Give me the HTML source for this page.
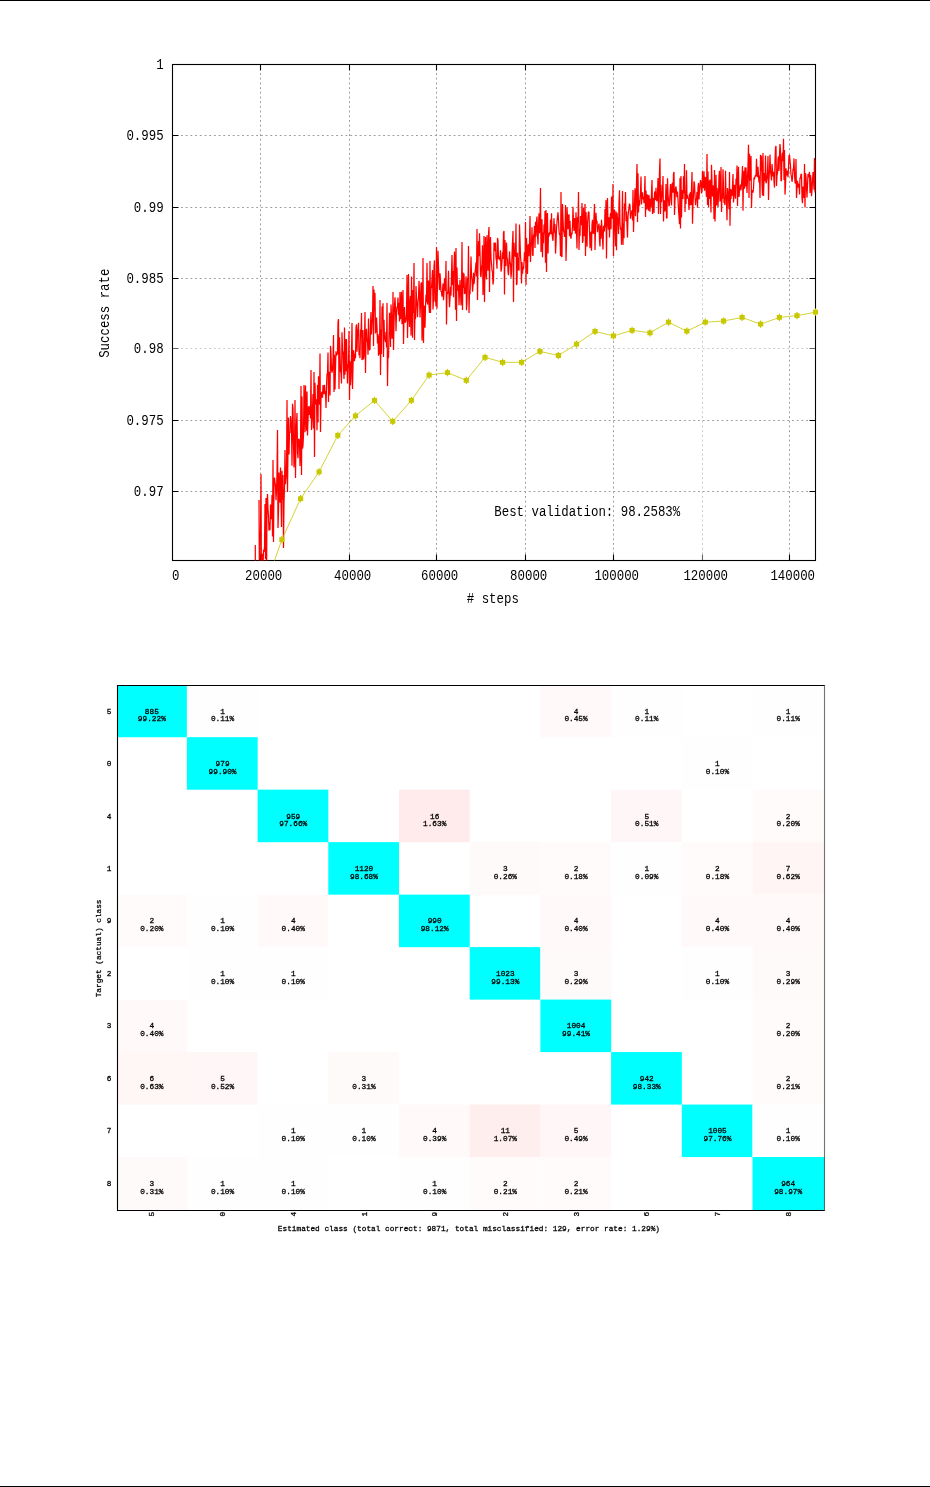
<!DOCTYPE html>
<html><head><meta charset="utf-8"><title>page</title>
<style>
html,body{margin:0;padding:0;background:#fff}
body{width:930px;height:1487px;position:relative;overflow:hidden;font-family:"Liberation Mono",monospace}
#top,#bot{position:absolute;left:0;width:930px;height:1px;background:#000}
#top{top:0}#bot{top:1486px}
svg{position:absolute;left:0;top:0;will-change:transform}
.t1{font-family:"Liberation Mono",monospace;font-size:12.4px;fill:#000}
.t2{font-family:"Liberation Mono",monospace;font-size:7.77px;font-weight:normal;fill:#000;stroke:#000;stroke-width:0.28;text-anchor:middle}
.grid{fill:none;stroke:#9e9e9e;stroke-width:1;stroke-dasharray:1.9 2.8}
.bord{fill:none;stroke:#000;stroke-width:1.1}
.red{fill:none;stroke:#ff0000;stroke-width:1.25;stroke-linejoin:miter;stroke-miterlimit:2}
.yel{fill:none;stroke:#c8c800;stroke-width:0.8}
</style></head>
<body>
<div id="top"></div>
<svg width="930" height="1487" viewBox="0 0 930 1487">
<g id="chart1">
<path d="M260.50 73.00V554.50M349.50 73.00V554.50M436.50 73.00V554.50M525.50 73.00V554.50M613.50 73.00V554.50M789.50 73.00V554.50M181.00 135.50H809.50M181.00 207.50H809.50M181.00 278.50H809.50M181.00 420.50H809.50M181.00 491.50H809.50" class="grid"/>
<path d="M702.50 73.00V554.50M181.00 348.50H809.50" class="grid" opacity="0.55"/>
<rect x="172.5" y="64.5" width="643.0" height="496.0" class="bord"/>
<path d="M260.50 560.5v-6M260.50 64.5v6M349.50 560.5v-6M349.50 64.5v6M436.50 560.5v-6M436.50 64.5v6M525.50 560.5v-6M525.50 64.5v6M613.50 560.5v-6M613.50 64.5v6M789.50 560.5v-6M789.50 64.5v6M172.5 135.50h6M815.5 135.50h-6M172.5 207.50h6M815.5 207.50h-6M172.5 278.50h6M815.5 278.50h-6M172.5 420.50h6M815.5 420.50h-6M172.5 491.50h6M815.5 491.50h-6" class="bord"/>
<path d="M702.50 560.5v-6M702.50 64.5v6M172.5 348.50h6M815.5 348.50h-6" class="bord" opacity="0.6"/>
<clipPath id="c1"><rect x="173" y="65" width="642.5" height="495.5"/></clipPath>
<path d="M255.3 545L255.3 562M259.0 500.0L259.5 600.0L260.0 538.7L260.5 530.8L261.0 474.0L261.5 600.0L262.0 569.0L262.5 553.7L263.0 568.9L263.5 549.8L264.0 552.0L264.5 547.4L265.0 504.0L265.5 559.0L266.0 498.0L266.5 590.0L267.0 502.7L267.5 494.1L268.0 508.8L268.5 516.5L269.0 530.7L269.5 522.1L270.0 530.1L270.5 504.4L271.0 518.3L271.5 518.6L272.0 494.9L272.5 536.6L273.0 460.0L273.5 542.0L274.0 486.2L274.5 477.5L275.0 482.5L275.5 485.8L276.0 500.2L276.5 491.2L277.0 472.4L277.5 430.0L278.0 528.0L278.5 510.2L279.0 472.4L279.5 494.2L280.0 502.6L280.5 467.4L281.0 497.6L281.5 527.1L282.0 470.7L282.5 499.4L283.0 475.0L283.5 548.0L284.0 502.8L284.5 486.5L285.0 450.0L285.5 484.3L286.0 477.7L286.5 475.9L287.0 400.0L287.5 492.0L288.0 448.8L288.5 417.5L289.0 454.5L289.5 432.1L290.0 432.9L290.5 416.1L291.0 420.3L291.5 429.3L292.0 465.8L292.5 403.8L293.0 408.8L293.5 441.7L294.0 467.4L294.5 453.0L295.0 400.0L295.5 478.0L296.0 439.2L296.5 422.9L297.0 413.0L297.5 452.3L298.0 458.3L298.5 439.6L299.0 438.9L299.5 442.1L300.0 465.9L300.5 447.6L301.0 386.0L301.5 475.0L302.0 396.6L302.5 448.7L303.0 445.5L303.5 435.2L304.0 384.9L304.5 404.4L305.0 432.3L305.5 385.5L306.0 408.9L306.5 430.8L307.0 391.6L307.5 435.5L308.0 420.6L308.5 406.3L309.0 411.1L309.5 415.0L310.0 405.9L310.5 418.5L311.0 370.0L311.5 430.0L312.0 421.0L312.5 409.4L313.0 393.9L313.5 428.6L314.0 372.0L314.5 457.0L315.0 382.8L315.5 403.6L316.0 403.8L316.5 399.3L317.0 430.3L317.5 384.7L318.0 422.4L318.5 376.3L319.0 379.3L319.5 404.7L320.0 353.5L320.5 432.0L321.0 398.7L321.5 393.1L322.0 391.8L322.5 397.7L323.0 385.1L323.5 390.1L324.0 394.1L324.5 384.9L325.0 394.1L325.5 391.0L326.0 408.1L326.5 387.1L327.0 374.5L327.5 373.2L328.0 352.5L328.5 402.0L329.0 371.8L329.5 377.9L330.0 395.5L330.5 345.9L331.0 352.4L331.5 369.9L332.0 372.6L332.5 369.7L333.0 359.4L333.5 335.0L334.0 392.0L334.5 354.7L335.0 389.6L335.5 368.5L336.0 351.3L336.5 355.5L337.0 353.1L337.5 354.5L338.0 322.3L338.5 319.0L339.0 389.0L339.5 337.2L340.0 352.8L340.5 371.7L341.0 372.5L341.5 383.5L342.0 332.3L342.5 350.0L343.0 352.5L343.5 369.1L344.0 379.0L344.5 327.6L345.0 374.8L345.5 339.2L346.0 371.2L346.5 339.1L347.0 363.8L347.5 383.5L348.0 363.9L348.5 368.0L349.0 331.0L349.5 400.0L350.0 361.3L350.5 385.2L351.0 378.3L351.5 354.8L352.0 323.0L352.5 389.0L353.0 366.5L353.5 350.2L354.0 353.6L354.5 361.2L355.0 354.0L355.5 358.2L356.0 327.7L356.5 324.4L357.0 351.7L357.5 332.7L358.0 329.3L358.5 322.7L359.0 355.3L359.5 351.0L360.0 358.1L360.5 329.5L361.0 336.6L361.5 313.0L362.0 360.0L362.5 358.3L363.0 329.9L363.5 359.4L364.0 356.2L364.5 340.7L365.0 312.0L365.5 373.0L366.0 339.5L366.5 328.9L367.0 340.8L367.5 340.6L368.0 354.8L368.5 318.5L369.0 344.3L369.5 350.4L370.0 349.0L370.5 324.0L371.0 312.0L371.5 334.5L372.0 322.3L372.5 319.7L373.0 286.0L373.5 346.0L374.0 289.6L374.5 311.3L375.0 292.9L375.5 333.4L376.0 331.2L376.5 317.6L377.0 327.2L377.5 343.5L378.0 334.1L378.5 355.8L379.0 335.7L379.5 354.4L380.0 300.0L380.5 375.0L381.0 329.6L381.5 354.1L382.0 306.6L382.5 316.7L383.0 303.2L383.5 357.1L384.0 319.8L384.5 339.6L385.0 338.6L385.5 342.1L386.0 331.9L386.5 347.4L387.0 303.0L387.5 386.0L388.0 350.9L388.5 357.9L389.0 335.0L389.5 312.8L390.0 321.3L390.5 347.1L391.0 304.5L391.5 315.4L392.0 338.7L392.5 335.6L393.0 292.0L393.5 350.0L394.0 324.0L394.5 304.7L395.0 297.4L395.5 309.1L396.0 331.2L396.5 313.1L397.0 306.7L397.5 307.6L398.0 297.5L398.5 315.1L399.0 302.7L399.5 321.6L400.0 292.0L400.5 319.2L401.0 309.6L401.5 291.7L402.0 324.2L402.5 314.3L403.0 290.0L403.5 344.0L404.0 316.8L404.5 307.1L405.0 322.0L405.5 322.1L406.0 319.9L406.5 313.7L407.0 275.0L407.5 338.0L408.0 314.0L408.5 274.1L409.0 316.1L409.5 327.0L410.0 301.8L410.5 295.9L411.0 335.5L411.5 276.5L412.0 308.3L412.5 337.7L413.0 290.1L413.5 313.1L414.0 263.0L414.5 340.0L415.0 311.9L415.5 319.2L416.0 286.1L416.5 298.0L417.0 306.4L417.5 317.3L418.0 302.0L418.5 297.3L419.0 280.9L419.5 291.9L420.0 317.4L420.5 304.4L421.0 284.2L421.5 282.3L422.0 340.6L422.5 328.6L423.0 258.0L423.5 343.0L424.0 305.6L424.5 307.2L425.0 327.8L425.5 306.1L426.0 294.6L426.5 302.2L427.0 263.1L427.5 304.6L428.0 296.8L428.5 280.6L429.0 305.9L429.5 312.9L430.0 261.0L430.5 313.0L431.0 288.3L431.5 287.5L432.0 279.2L432.5 270.1L433.0 309.5L433.5 298.8L434.0 266.6L434.5 260.4L435.0 301.8L435.5 295.5L436.0 306.4L436.5 247.0L437.0 308.5L437.5 282.0L438.0 250.8L438.5 266.8L439.0 279.4L439.5 290.0L440.0 273.3L440.5 281.2L441.0 291.4L441.5 291.9L442.0 296.6L442.5 291.4L443.0 283.6L443.5 300.2L444.0 291.5L444.5 278.2L445.0 280.6L445.5 290.9L446.0 261.0L446.5 324.6L447.0 292.2L447.5 294.3L448.0 289.3L448.5 270.8L449.0 294.9L449.5 307.1L450.0 298.1L450.5 286.8L451.0 295.6L451.5 273.1L452.0 255.0L452.5 285.0L453.0 271.1L453.5 297.3L454.0 268.8L454.5 251.5L455.0 262.7L455.5 309.7L456.0 248.0L456.5 321.0L457.0 267.4L457.5 289.5L458.0 290.6L458.5 284.7L459.0 305.3L459.5 293.7L460.0 279.8L460.5 288.0L461.0 305.4L461.5 295.3L462.0 242.0L462.5 310.0L463.0 272.6L463.5 288.1L464.0 273.4L464.5 294.1L465.0 288.8L465.5 293.5L466.0 276.3L466.5 310.3L467.0 302.5L467.5 277.8L468.0 280.5L468.5 246.0L469.0 313.0L469.5 291.9L470.0 294.3L470.5 278.1L471.0 256.6L471.5 275.6L472.0 279.5L472.5 291.7L473.0 286.5L473.5 272.7L474.0 284.2L474.5 279.4L475.0 272.6L475.5 268.6L476.0 262.4L476.5 276.5L477.0 229.0L477.5 300.0L478.0 264.0L478.5 241.1L479.0 256.2L479.5 233.3L480.0 252.0L480.5 274.6L481.0 277.1L481.5 267.6L482.0 264.1L482.5 245.2L483.0 295.1L483.5 279.6L484.0 236.0L484.5 302.0L485.0 262.7L485.5 237.1L486.0 274.3L486.5 279.5L487.0 235.2L487.5 258.6L488.0 270.7L488.5 234.1L489.0 227.0L489.5 292.0L490.0 248.1L490.5 237.1L491.0 258.1L491.5 263.7L492.0 270.3L492.5 272.0L493.0 284.6L493.5 280.7L494.0 242.5L494.5 251.1L495.0 243.6L495.5 242.7L496.0 258.0L496.5 260.9L497.0 268.7L497.5 237.9L498.0 240.3L498.5 259.1L499.0 258.4L499.5 256.7L500.0 260.4L500.5 250.3L501.0 271.6L501.5 268.5L502.0 261.6L502.5 252.2L503.0 258.9L503.5 232.5L504.0 231.0L504.5 294.5L505.0 240.1L505.5 264.1L506.0 266.0L506.5 242.6L507.0 258.0L507.5 258.7L508.0 271.2L508.5 275.1L509.0 265.3L509.5 251.4L510.0 261.6L510.5 264.1L511.0 277.7L511.5 272.0L512.0 254.7L512.5 242.5L513.0 231.0L513.5 302.0L514.0 242.8L514.5 256.3L515.0 250.2L515.5 257.0L516.0 223.5L516.5 285.0L517.0 283.5L517.5 252.8L518.0 270.1L518.5 257.5L519.0 270.8L519.5 224.5L520.0 239.5L520.5 256.1L521.0 263.0L521.5 283.4L522.0 262.1L522.5 273.6L523.0 267.1L523.5 269.1L524.0 262.8L524.5 252.2L525.0 261.0L525.5 222.0L526.0 285.0L526.5 237.9L527.0 251.3L527.5 274.0L528.0 245.6L528.5 244.3L529.0 256.2L529.5 242.3L530.0 216.0L530.5 262.0L531.0 244.0L531.5 245.2L532.0 227.3L532.5 254.6L533.0 255.9L533.5 235.3L534.0 235.5L534.5 225.9L535.0 247.9L535.5 221.8L536.0 236.6L536.5 221.8L537.0 216.5L537.5 234.7L538.0 244.5L538.5 225.8L539.0 213.4L539.5 233.1L540.0 221.6L540.5 188.0L541.0 252.0L541.5 242.6L542.0 219.3L542.5 257.2L543.0 232.5L543.5 243.2L544.0 224.6L544.5 233.6L545.0 211.0L545.5 262.8L546.0 210.0L546.5 272.0L547.0 216.1L547.5 213.0L548.0 253.6L548.5 232.9L549.0 236.3L549.5 232.3L550.0 234.3L550.5 219.6L551.0 234.2L551.5 213.3L552.0 231.2L552.5 238.2L553.0 240.8L553.5 230.0L554.0 218.3L554.5 232.7L555.0 223.9L555.5 253.6L556.0 244.0L556.5 229.1L557.0 221.7L557.5 216.9L558.0 212.3L558.5 220.3L559.0 230.5L559.5 234.5L560.0 235.2L560.5 255.9L561.0 192.0L561.5 257.0L562.0 256.3L562.5 204.0L563.0 218.4L563.5 230.7L564.0 232.5L564.5 237.0L565.0 229.4L565.5 205.0L566.0 261.0L566.5 242.5L567.0 207.4L567.5 216.9L568.0 229.2L568.5 216.2L569.0 214.3L569.5 236.2L570.0 220.8L570.5 236.1L571.0 238.7L571.5 232.6L572.0 234.4L572.5 225.8L573.0 206.8L573.5 223.2L574.0 231.0L574.5 218.0L575.0 222.1L575.5 233.7L576.0 212.2L576.5 230.4L577.0 248.6L577.5 216.9L578.0 222.9L578.5 192.0L579.0 250.0L579.5 228.9L580.0 235.9L580.5 216.0L581.0 223.7L581.5 225.1L582.0 203.0L582.5 243.0L583.0 240.5L583.5 207.4L584.0 236.1L584.5 228.7L585.0 204.0L585.5 256.0L586.0 211.9L586.5 225.1L587.0 246.8L587.5 224.0L588.0 216.3L588.5 211.5L589.0 212.7L589.5 230.9L590.0 248.2L590.5 235.2L591.0 231.6L591.5 250.7L592.0 224.5L592.5 219.7L593.0 232.6L593.5 233.9L594.0 216.6L594.5 204.0L595.0 250.0L595.5 230.2L596.0 212.8L596.5 223.6L597.0 220.8L597.5 232.3L598.0 226.8L598.5 226.7L599.0 223.5L599.5 240.4L600.0 246.5L600.5 225.5L601.0 238.7L601.5 219.8L602.0 228.6L602.5 238.4L603.0 249.6L603.5 225.8L604.0 227.6L604.5 231.5L605.0 208.9L605.5 227.4L606.0 200.0L606.5 258.6L607.0 212.1L607.5 198.0L608.0 224.0L608.5 229.6L609.0 217.2L609.5 237.5L610.0 220.8L610.5 213.1L611.0 229.2L611.5 196.6L612.0 207.2L612.5 218.7L613.0 184.0L613.5 256.0L614.0 224.7L614.5 209.4L615.0 223.4L615.5 246.3L616.0 211.2L616.5 250.2L617.0 212.8L617.5 218.7L618.0 221.5L618.5 234.0L619.0 202.4L619.5 190.3L620.0 223.9L620.5 229.8L621.0 227.8L621.5 244.7L622.0 224.3L622.5 191.0L623.0 245.0L623.5 223.2L624.0 238.2L624.5 203.6L625.0 210.5L625.5 192.0L626.0 221.2L626.5 211.5L627.0 225.3L627.5 237.6L628.0 216.8L628.5 211.4L629.0 207.9L629.5 203.6L630.0 205.2L630.5 218.7L631.0 213.3L631.5 212.8L632.0 210.0L632.5 220.4L633.0 190.0L633.5 232.0L634.0 213.7L634.5 203.3L635.0 188.2L635.5 216.3L636.0 205.2L636.5 183.3L637.0 164.0L637.5 222.0L638.0 173.3L638.5 212.6L639.0 200.0L639.5 205.8L640.0 197.9L640.5 193.1L641.0 176.4L641.5 204.4L642.0 196.4L642.5 192.4L643.0 199.1L643.5 197.0L644.0 203.1L644.5 193.3L645.0 176.0L645.5 217.0L646.0 190.5L646.5 202.3L647.0 209.6L647.5 194.6L648.0 195.4L648.5 210.7L649.0 195.3L649.5 203.0L650.0 211.8L650.5 198.7L651.0 207.3L651.5 192.2L652.0 180.0L652.5 214.0L653.0 197.7L653.5 206.1L654.0 213.1L654.5 193.1L655.0 191.4L655.5 200.1L656.0 187.8L656.5 199.6L657.0 201.3L657.5 194.2L658.0 178.0L658.5 214.0L659.0 197.8L659.5 170.8L660.0 158.5L660.5 214.0L661.0 184.7L661.5 202.2L662.0 196.5L662.5 192.4L663.0 176.0L663.5 221.5L664.0 200.1L664.5 202.1L665.0 211.5L665.5 201.8L666.0 184.1L666.5 218.3L667.0 218.0L667.5 178.2L668.0 194.1L668.5 200.3L669.0 206.4L669.5 203.7L670.0 193.4L670.5 184.0L671.0 194.9L671.5 205.4L672.0 184.3L672.5 182.6L673.0 192.6L673.5 173.8L674.0 172.0L674.5 215.0L675.0 199.4L675.5 188.9L676.0 186.5L676.5 192.2L677.0 197.3L677.5 191.6L678.0 199.4L678.5 209.5L679.0 216.4L679.5 224.2L680.0 178.0L680.5 228.6L681.0 176.1L681.5 217.6L682.0 189.9L682.5 193.8L683.0 199.1L683.5 176.3L684.0 193.5L684.5 164.0L685.0 212.0L685.5 190.6L686.0 203.9L686.5 170.3L687.0 198.7L687.5 195.1L688.0 198.5L688.5 199.1L689.0 210.0L689.5 193.5L690.0 205.6L690.5 192.0L691.0 205.0L691.5 188.1L692.0 172.0L692.5 223.7L693.0 204.2L693.5 194.8L694.0 181.3L694.5 183.7L695.0 195.4L695.5 205.2L696.0 199.3L696.5 199.4L697.0 191.9L697.5 207.7L698.0 187.4L698.5 182.9L699.0 199.4L699.5 190.5L700.0 184.8L700.5 180.1L701.0 183.0L701.5 193.4L702.0 190.6L702.5 170.8L703.0 188.2L703.5 186.3L704.0 171.3L704.5 190.8L705.0 179.4L705.5 177.0L706.0 189.9L706.5 197.0L707.0 154.0L707.5 205.0L708.0 171.5L708.5 207.0L709.0 180.5L709.5 199.0L710.0 179.5L710.5 196.2L711.0 212.4L711.5 164.8L712.0 182.1L712.5 196.6L713.0 191.7L713.5 185.2L714.0 218.9L714.5 170.0L715.0 221.5L715.5 203.2L716.0 174.7L716.5 205.5L717.0 187.8L717.5 194.0L718.0 206.9L718.5 194.7L719.0 176.2L719.5 170.7L720.0 201.4L720.5 199.1L721.0 167.0L721.5 212.0L722.0 196.9L722.5 198.9L723.0 169.3L723.5 186.3L724.0 202.4L724.5 202.7L725.0 205.0L725.5 170.8L726.0 194.1L726.5 201.3L727.0 220.2L727.5 188.0L728.0 192.1L728.5 197.6L729.0 209.3L729.5 172.0L730.0 225.8L730.5 189.1L731.0 199.0L731.5 189.6L732.0 196.0L732.5 186.0L733.0 174.1L733.5 202.4L734.0 195.5L734.5 184.7L735.0 190.9L735.5 198.8L736.0 178.8L736.5 184.8L737.0 165.6L737.5 206.0L738.0 183.5L738.5 166.7L739.0 197.0L739.5 191.3L740.0 187.8L740.5 184.6L741.0 190.1L741.5 183.7L742.0 176.9L742.5 166.0L743.0 210.8L743.5 178.4L744.0 170.8L744.5 188.8L745.0 167.2L745.5 186.4L746.0 167.4L746.5 180.4L747.0 192.9L747.5 178.7L748.0 164.4L748.5 144.7L749.0 198.0L749.5 153.8L750.0 167.8L750.5 180.8L751.0 156.0L751.5 208.0L752.0 190.3L752.5 191.2L753.0 192.6L753.5 188.6L754.0 177.5L754.5 179.3L755.0 176.3L755.5 175.3L756.0 176.4L756.5 158.7L757.0 172.5L757.5 177.1L758.0 166.7L758.5 176.0L759.0 182.5L759.5 175.5L760.0 197.9L760.5 154.7L761.0 171.0L761.5 155.8L762.0 183.4L762.5 195.4L763.0 153.0L763.5 196.0L764.0 180.4L764.5 173.0L765.0 181.3L765.5 155.6L766.0 183.2L766.5 181.5L767.0 178.0L767.5 171.6L768.0 156.0L768.5 200.0L769.0 178.4L769.5 170.7L770.0 154.6L770.5 171.6L771.0 175.3L771.5 180.5L772.0 164.0L772.5 170.1L773.0 176.5L773.5 171.8L774.0 181.3L774.5 187.6L775.0 160.8L775.5 147.7L776.0 146.0L776.5 186.0L777.0 175.4L777.5 173.5L778.0 159.2L778.5 156.4L779.0 171.1L779.5 154.8L780.0 144.1L780.5 150.5L781.0 180.9L781.5 180.5L782.0 156.0L782.5 152.6L783.0 161.2L783.5 138.7L784.0 180.0L784.5 150.0L785.0 194.6L785.5 185.4L786.0 168.3L786.5 175.2L787.0 173.7L787.5 170.7L788.0 177.2L788.5 167.7L789.0 155.5L789.5 155.0L790.0 160.3L790.5 166.5L791.0 174.7L791.5 176.5L792.0 181.8L792.5 178.3L793.0 169.4L793.5 169.6L794.0 158.4L794.5 174.0L795.0 182.1L795.5 183.6L796.0 159.0L796.5 198.0L797.0 188.0L797.5 180.8L798.0 187.3L798.5 186.9L799.0 183.7L799.5 194.4L800.0 177.6L800.5 178.4L801.0 174.4L801.5 174.4L802.0 198.3L802.5 203.3L803.0 186.6L803.5 190.9L804.0 198.0L804.5 164.0L805.0 207.5L805.5 173.2L806.0 176.7L806.5 187.4L807.0 197.6L807.5 185.1L808.0 174.1L808.5 177.4L809.0 174.5L809.5 171.9L810.0 192.9L810.5 175.1L811.0 178.7L811.5 196.2L812.0 190.2L812.5 181.5L813.0 172.1L813.5 179.4L814.0 189.7L814.5 158.0L815.0 192.5L815.5 160.0" class="red" clip-path="url(#c1)"/>
<path d="M274.4 561L281.9 539.6L300.6 498.7L319.1 471.8L337.8 435.3L355.5 415.9L374.5 400.4L392.7 421.4L411.4 400.4L429.1 375.1L447.5 372.6L466.3 380.3L485.0 357.3L502.6 362.3L521.6 362.3L539.9 351.4L558.4 355.5L576.5 344.2L595.0 331.3L613.4 335.9L632.1 330.3L650.0 332.8L668.5 322.2L686.8 331.2L705.3 322.2L723.6 321.0L742.1 317.4L760.6 324.2L779.4 317.4L797.0 315.6L815.5 312.2" class="yel" clip-path="url(#c1)"/>
<path d="M279.3 537.2h5.2v4.8h-5.2zM281.3 536.0h1.2v7.2h-1.2zM298.0 496.3h5.2v4.8h-5.2zM300.0 495.1h1.2v7.2h-1.2zM316.5 469.4h5.2v4.8h-5.2zM318.5 468.2h1.2v7.2h-1.2zM335.2 432.9h5.2v4.8h-5.2zM337.2 431.7h1.2v7.2h-1.2zM352.9 413.5h5.2v4.8h-5.2zM354.9 412.3h1.2v7.2h-1.2zM371.9 398.0h5.2v4.8h-5.2zM373.9 396.8h1.2v7.2h-1.2zM390.1 419.0h5.2v4.8h-5.2zM392.1 417.8h1.2v7.2h-1.2zM408.8 398.0h5.2v4.8h-5.2zM410.8 396.8h1.2v7.2h-1.2zM426.5 372.7h5.2v4.8h-5.2zM428.5 371.5h1.2v7.2h-1.2zM444.9 370.2h5.2v4.8h-5.2zM446.9 369.0h1.2v7.2h-1.2zM463.7 377.9h5.2v4.8h-5.2zM465.7 376.7h1.2v7.2h-1.2zM482.4 354.9h5.2v4.8h-5.2zM484.4 353.7h1.2v7.2h-1.2zM500.0 359.9h5.2v4.8h-5.2zM502.0 358.7h1.2v7.2h-1.2zM519.0 359.9h5.2v4.8h-5.2zM521.0 358.7h1.2v7.2h-1.2zM537.3 349.0h5.2v4.8h-5.2zM539.3 347.8h1.2v7.2h-1.2zM555.8 353.1h5.2v4.8h-5.2zM557.8 351.9h1.2v7.2h-1.2zM573.9 341.8h5.2v4.8h-5.2zM575.9 340.6h1.2v7.2h-1.2zM592.4 328.9h5.2v4.8h-5.2zM594.4 327.7h1.2v7.2h-1.2zM610.8 333.5h5.2v4.8h-5.2zM612.8 332.3h1.2v7.2h-1.2zM629.5 327.9h5.2v4.8h-5.2zM631.5 326.7h1.2v7.2h-1.2zM647.4 330.4h5.2v4.8h-5.2zM649.4 329.2h1.2v7.2h-1.2zM665.9 319.8h5.2v4.8h-5.2zM667.9 318.6h1.2v7.2h-1.2zM684.2 328.8h5.2v4.8h-5.2zM686.2 327.6h1.2v7.2h-1.2zM702.7 319.8h5.2v4.8h-5.2zM704.7 318.6h1.2v7.2h-1.2zM721.0 318.6h5.2v4.8h-5.2zM723.0 317.4h1.2v7.2h-1.2zM739.5 315.0h5.2v4.8h-5.2zM741.5 313.8h1.2v7.2h-1.2zM758.0 321.8h5.2v4.8h-5.2zM760.0 320.6h1.2v7.2h-1.2zM776.8 315.0h5.2v4.8h-5.2zM778.8 313.8h1.2v7.2h-1.2zM794.4 313.2h5.2v4.8h-5.2zM796.4 312.0h1.2v7.2h-1.2zM812.9 309.8h5.2v4.8h-5.2zM814.9 308.6h1.2v7.2h-1.2z" fill="#c8c800"/>
<text transform="translate(163.60 69.40) scale(1 1.2)" text-anchor="end" class="t1">1</text>
<text transform="translate(163.60 140.40) scale(1 1.2)" text-anchor="end" class="t1">0.995</text>
<text transform="translate(163.60 212.40) scale(1 1.2)" text-anchor="end" class="t1">0.99</text>
<text transform="translate(163.60 283.40) scale(1 1.2)" text-anchor="end" class="t1">0.985</text>
<text transform="translate(163.60 353.40) scale(1 1.2)" text-anchor="end" class="t1">0.98</text>
<text transform="translate(163.60 425.40) scale(1 1.2)" text-anchor="end" class="t1">0.975</text>
<text transform="translate(163.60 496.40) scale(1 1.2)" text-anchor="end" class="t1">0.97</text>
<text transform="translate(175.70 580.20) scale(1 1.2)" text-anchor="middle" class="t1">0</text>
<text transform="translate(263.70 580.20) scale(1 1.2)" text-anchor="middle" class="t1">20000</text>
<text transform="translate(352.70 580.20) scale(1 1.2)" text-anchor="middle" class="t1">40000</text>
<text transform="translate(439.70 580.20) scale(1 1.2)" text-anchor="middle" class="t1">60000</text>
<text transform="translate(528.70 580.20) scale(1 1.2)" text-anchor="middle" class="t1">80000</text>
<text transform="translate(616.70 580.20) scale(1 1.2)" text-anchor="middle" class="t1">100000</text>
<text transform="translate(705.70 580.20) scale(1 1.2)" text-anchor="middle" class="t1">120000</text>
<text transform="translate(792.70 580.20) scale(1 1.2)" text-anchor="middle" class="t1">140000</text>
<text transform="translate(492.80 603.00) scale(1 1.2)" text-anchor="middle" class="t1"># steps</text>
<text transform="translate(494.30 515.50) scale(1 1.2)" text-anchor="start" class="t1">Best validation: 98.2583%</text>
<text transform="translate(109.20 313.20) rotate(-90) scale(1 1.2)" text-anchor="middle" class="t1">Success rate</text>
</g>
<g id="chart2">
<clipPath id="c2"><rect x="117" y="685" width="707.5" height="525.5"/></clipPath>
<g clip-path="url(#c2)"><rect x="116.20" y="684.70" width="70.75" height="52.53" fill="#00ffff"/><rect x="186.90" y="684.70" width="70.75" height="52.53" fill="#fffefe"/><rect x="540.40" y="684.70" width="70.75" height="52.53" fill="#fff9f9"/><rect x="611.10" y="684.70" width="70.75" height="52.53" fill="#fffefe"/><rect x="752.50" y="684.70" width="73.70" height="52.53" fill="#fffefe"/><rect x="186.90" y="737.18" width="70.75" height="52.53" fill="#00ffff"/><rect x="681.80" y="737.18" width="70.75" height="52.53" fill="#fffefe"/><rect x="257.60" y="789.66" width="70.75" height="52.53" fill="#00ffff"/><rect x="399.00" y="789.66" width="70.75" height="52.53" fill="#ffebeb"/><rect x="611.10" y="789.66" width="70.75" height="52.53" fill="#fff7f7"/><rect x="752.50" y="789.66" width="73.70" height="52.53" fill="#fffbfb"/><rect x="328.30" y="842.14" width="70.75" height="52.53" fill="#00ffff"/><rect x="469.70" y="842.14" width="70.75" height="52.53" fill="#fffafa"/><rect x="540.40" y="842.14" width="70.75" height="52.53" fill="#fffbfb"/><rect x="611.10" y="842.14" width="70.75" height="52.53" fill="#fffefe"/><rect x="681.80" y="842.14" width="70.75" height="52.53" fill="#fffbfb"/><rect x="752.50" y="842.14" width="73.70" height="52.53" fill="#fff5f5"/><rect x="116.20" y="894.62" width="70.75" height="52.53" fill="#fffbfb"/><rect x="186.90" y="894.62" width="70.75" height="52.53" fill="#fffefe"/><rect x="257.60" y="894.62" width="70.75" height="52.53" fill="#fff9f9"/><rect x="399.00" y="894.62" width="70.75" height="52.53" fill="#00ffff"/><rect x="540.40" y="894.62" width="70.75" height="52.53" fill="#fff9f9"/><rect x="681.80" y="894.62" width="70.75" height="52.53" fill="#fff9f9"/><rect x="752.50" y="894.62" width="73.70" height="52.53" fill="#fff9f9"/><rect x="186.90" y="947.10" width="70.75" height="52.53" fill="#fffefe"/><rect x="257.60" y="947.10" width="70.75" height="52.53" fill="#fffefe"/><rect x="469.70" y="947.10" width="70.75" height="52.53" fill="#00ffff"/><rect x="540.40" y="947.10" width="70.75" height="52.53" fill="#fffafa"/><rect x="681.80" y="947.10" width="70.75" height="52.53" fill="#fffefe"/><rect x="752.50" y="947.10" width="73.70" height="52.53" fill="#fffafa"/><rect x="116.20" y="999.58" width="70.75" height="52.53" fill="#fff9f9"/><rect x="540.40" y="999.58" width="70.75" height="52.53" fill="#00ffff"/><rect x="752.50" y="999.58" width="73.70" height="52.53" fill="#fffbfb"/><rect x="116.20" y="1052.06" width="70.75" height="52.53" fill="#fff6f6"/><rect x="186.90" y="1052.06" width="70.75" height="52.53" fill="#fff7f7"/><rect x="328.30" y="1052.06" width="70.75" height="52.53" fill="#fffafa"/><rect x="611.10" y="1052.06" width="70.75" height="52.53" fill="#00ffff"/><rect x="752.50" y="1052.06" width="73.70" height="52.53" fill="#fffbfb"/><rect x="257.60" y="1104.54" width="70.75" height="52.53" fill="#fffefe"/><rect x="328.30" y="1104.54" width="70.75" height="52.53" fill="#fffefe"/><rect x="399.00" y="1104.54" width="70.75" height="52.53" fill="#fff9f9"/><rect x="469.70" y="1104.54" width="70.75" height="52.53" fill="#ffeeee"/><rect x="540.40" y="1104.54" width="70.75" height="52.53" fill="#fff7f7"/><rect x="681.80" y="1104.54" width="70.75" height="52.53" fill="#00ffff"/><rect x="752.50" y="1104.54" width="73.70" height="52.53" fill="#fffefe"/><rect x="116.20" y="1157.02" width="70.75" height="55.48" fill="#fffafa"/><rect x="186.90" y="1157.02" width="70.75" height="55.48" fill="#fffefe"/><rect x="257.60" y="1157.02" width="70.75" height="55.48" fill="#fffefe"/><rect x="399.00" y="1157.02" width="70.75" height="55.48" fill="#fffefe"/><rect x="469.70" y="1157.02" width="70.75" height="55.48" fill="#fffbfb"/><rect x="540.40" y="1157.02" width="70.75" height="55.48" fill="#fffbfb"/><rect x="752.50" y="1157.02" width="73.70" height="55.48" fill="#00ffff"/></g>
<path d="M824.5 685.5H117.5V1210.5H824.5" class="bord"/>
<path d="M824.5 685V1211" class="bord" opacity="0.55"/>
<text transform="translate(151.85 713.54) scale(1 1.0)" class="t2">885</text><text transform="translate(151.85 721.24) scale(1 1.0)" class="t2">99.22%</text><text transform="translate(222.55 713.54) scale(1 1.0)" class="t2">1</text><text transform="translate(222.55 721.24) scale(1 1.0)" class="t2">0.11%</text><text transform="translate(576.05 713.54) scale(1 1.0)" class="t2">4</text><text transform="translate(576.05 721.24) scale(1 1.0)" class="t2">0.45%</text><text transform="translate(646.75 713.54) scale(1 1.0)" class="t2">1</text><text transform="translate(646.75 721.24) scale(1 1.0)" class="t2">0.11%</text><text transform="translate(788.15 713.54) scale(1 1.0)" class="t2">1</text><text transform="translate(788.15 721.24) scale(1 1.0)" class="t2">0.11%</text><text transform="translate(222.55 766.02) scale(1 1.0)" class="t2">979</text><text transform="translate(222.55 773.72) scale(1 1.0)" class="t2">99.90%</text><text transform="translate(717.45 766.02) scale(1 1.0)" class="t2">1</text><text transform="translate(717.45 773.72) scale(1 1.0)" class="t2">0.10%</text><text transform="translate(293.25 818.50) scale(1 1.0)" class="t2">959</text><text transform="translate(293.25 826.20) scale(1 1.0)" class="t2">97.66%</text><text transform="translate(434.65 818.50) scale(1 1.0)" class="t2">16</text><text transform="translate(434.65 826.20) scale(1 1.0)" class="t2">1.63%</text><text transform="translate(646.75 818.50) scale(1 1.0)" class="t2">5</text><text transform="translate(646.75 826.20) scale(1 1.0)" class="t2">0.51%</text><text transform="translate(788.15 818.50) scale(1 1.0)" class="t2">2</text><text transform="translate(788.15 826.20) scale(1 1.0)" class="t2">0.20%</text><text transform="translate(363.95 870.98) scale(1 1.0)" class="t2">1120</text><text transform="translate(363.95 878.68) scale(1 1.0)" class="t2">98.68%</text><text transform="translate(505.35 870.98) scale(1 1.0)" class="t2">3</text><text transform="translate(505.35 878.68) scale(1 1.0)" class="t2">0.26%</text><text transform="translate(576.05 870.98) scale(1 1.0)" class="t2">2</text><text transform="translate(576.05 878.68) scale(1 1.0)" class="t2">0.18%</text><text transform="translate(646.75 870.98) scale(1 1.0)" class="t2">1</text><text transform="translate(646.75 878.68) scale(1 1.0)" class="t2">0.09%</text><text transform="translate(717.45 870.98) scale(1 1.0)" class="t2">2</text><text transform="translate(717.45 878.68) scale(1 1.0)" class="t2">0.18%</text><text transform="translate(788.15 870.98) scale(1 1.0)" class="t2">7</text><text transform="translate(788.15 878.68) scale(1 1.0)" class="t2">0.62%</text><text transform="translate(151.85 923.46) scale(1 1.0)" class="t2">2</text><text transform="translate(151.85 931.16) scale(1 1.0)" class="t2">0.20%</text><text transform="translate(222.55 923.46) scale(1 1.0)" class="t2">1</text><text transform="translate(222.55 931.16) scale(1 1.0)" class="t2">0.10%</text><text transform="translate(293.25 923.46) scale(1 1.0)" class="t2">4</text><text transform="translate(293.25 931.16) scale(1 1.0)" class="t2">0.40%</text><text transform="translate(434.65 923.46) scale(1 1.0)" class="t2">990</text><text transform="translate(434.65 931.16) scale(1 1.0)" class="t2">98.12%</text><text transform="translate(576.05 923.46) scale(1 1.0)" class="t2">4</text><text transform="translate(576.05 931.16) scale(1 1.0)" class="t2">0.40%</text><text transform="translate(717.45 923.46) scale(1 1.0)" class="t2">4</text><text transform="translate(717.45 931.16) scale(1 1.0)" class="t2">0.40%</text><text transform="translate(788.15 923.46) scale(1 1.0)" class="t2">4</text><text transform="translate(788.15 931.16) scale(1 1.0)" class="t2">0.40%</text><text transform="translate(222.55 975.94) scale(1 1.0)" class="t2">1</text><text transform="translate(222.55 983.64) scale(1 1.0)" class="t2">0.10%</text><text transform="translate(293.25 975.94) scale(1 1.0)" class="t2">1</text><text transform="translate(293.25 983.64) scale(1 1.0)" class="t2">0.10%</text><text transform="translate(505.35 975.94) scale(1 1.0)" class="t2">1023</text><text transform="translate(505.35 983.64) scale(1 1.0)" class="t2">99.13%</text><text transform="translate(576.05 975.94) scale(1 1.0)" class="t2">3</text><text transform="translate(576.05 983.64) scale(1 1.0)" class="t2">0.29%</text><text transform="translate(717.45 975.94) scale(1 1.0)" class="t2">1</text><text transform="translate(717.45 983.64) scale(1 1.0)" class="t2">0.10%</text><text transform="translate(788.15 975.94) scale(1 1.0)" class="t2">3</text><text transform="translate(788.15 983.64) scale(1 1.0)" class="t2">0.29%</text><text transform="translate(151.85 1028.42) scale(1 1.0)" class="t2">4</text><text transform="translate(151.85 1036.12) scale(1 1.0)" class="t2">0.40%</text><text transform="translate(576.05 1028.42) scale(1 1.0)" class="t2">1004</text><text transform="translate(576.05 1036.12) scale(1 1.0)" class="t2">99.41%</text><text transform="translate(788.15 1028.42) scale(1 1.0)" class="t2">2</text><text transform="translate(788.15 1036.12) scale(1 1.0)" class="t2">0.20%</text><text transform="translate(151.85 1080.90) scale(1 1.0)" class="t2">6</text><text transform="translate(151.85 1088.60) scale(1 1.0)" class="t2">0.63%</text><text transform="translate(222.55 1080.90) scale(1 1.0)" class="t2">5</text><text transform="translate(222.55 1088.60) scale(1 1.0)" class="t2">0.52%</text><text transform="translate(363.95 1080.90) scale(1 1.0)" class="t2">3</text><text transform="translate(363.95 1088.60) scale(1 1.0)" class="t2">0.31%</text><text transform="translate(646.75 1080.90) scale(1 1.0)" class="t2">942</text><text transform="translate(646.75 1088.60) scale(1 1.0)" class="t2">98.33%</text><text transform="translate(788.15 1080.90) scale(1 1.0)" class="t2">2</text><text transform="translate(788.15 1088.60) scale(1 1.0)" class="t2">0.21%</text><text transform="translate(293.25 1133.38) scale(1 1.0)" class="t2">1</text><text transform="translate(293.25 1141.08) scale(1 1.0)" class="t2">0.10%</text><text transform="translate(363.95 1133.38) scale(1 1.0)" class="t2">1</text><text transform="translate(363.95 1141.08) scale(1 1.0)" class="t2">0.10%</text><text transform="translate(434.65 1133.38) scale(1 1.0)" class="t2">4</text><text transform="translate(434.65 1141.08) scale(1 1.0)" class="t2">0.39%</text><text transform="translate(505.35 1133.38) scale(1 1.0)" class="t2">11</text><text transform="translate(505.35 1141.08) scale(1 1.0)" class="t2">1.07%</text><text transform="translate(576.05 1133.38) scale(1 1.0)" class="t2">5</text><text transform="translate(576.05 1141.08) scale(1 1.0)" class="t2">0.49%</text><text transform="translate(717.45 1133.38) scale(1 1.0)" class="t2">1005</text><text transform="translate(717.45 1141.08) scale(1 1.0)" class="t2">97.76%</text><text transform="translate(788.15 1133.38) scale(1 1.0)" class="t2">1</text><text transform="translate(788.15 1141.08) scale(1 1.0)" class="t2">0.10%</text><text transform="translate(151.85 1185.86) scale(1 1.0)" class="t2">3</text><text transform="translate(151.85 1193.56) scale(1 1.0)" class="t2">0.31%</text><text transform="translate(222.55 1185.86) scale(1 1.0)" class="t2">1</text><text transform="translate(222.55 1193.56) scale(1 1.0)" class="t2">0.10%</text><text transform="translate(293.25 1185.86) scale(1 1.0)" class="t2">1</text><text transform="translate(293.25 1193.56) scale(1 1.0)" class="t2">0.10%</text><text transform="translate(434.65 1185.86) scale(1 1.0)" class="t2">1</text><text transform="translate(434.65 1193.56) scale(1 1.0)" class="t2">0.10%</text><text transform="translate(505.35 1185.86) scale(1 1.0)" class="t2">2</text><text transform="translate(505.35 1193.56) scale(1 1.0)" class="t2">0.21%</text><text transform="translate(576.05 1185.86) scale(1 1.0)" class="t2">2</text><text transform="translate(576.05 1193.56) scale(1 1.0)" class="t2">0.21%</text><text transform="translate(788.15 1185.86) scale(1 1.0)" class="t2">964</text><text transform="translate(788.15 1193.56) scale(1 1.0)" class="t2">98.97%</text>
<text transform="translate(109 713.54) scale(1 1.0)" class="t2">5</text>
<text transform="translate(154.45 1214.1) rotate(-90) scale(1 1.0)" class="t2">5</text>
<text transform="translate(109 766.02) scale(1 1.0)" class="t2">0</text>
<text transform="translate(225.15 1214.1) rotate(-90) scale(1 1.0)" class="t2">0</text>
<text transform="translate(109 818.50) scale(1 1.0)" class="t2">4</text>
<text transform="translate(295.85 1214.1) rotate(-90) scale(1 1.0)" class="t2">4</text>
<text transform="translate(109 870.98) scale(1 1.0)" class="t2">1</text>
<text transform="translate(366.55 1214.1) rotate(-90) scale(1 1.0)" class="t2">1</text>
<text transform="translate(109 923.46) scale(1 1.0)" class="t2">9</text>
<text transform="translate(437.25 1214.1) rotate(-90) scale(1 1.0)" class="t2">9</text>
<text transform="translate(109 975.94) scale(1 1.0)" class="t2">2</text>
<text transform="translate(507.95 1214.1) rotate(-90) scale(1 1.0)" class="t2">2</text>
<text transform="translate(109 1028.42) scale(1 1.0)" class="t2">3</text>
<text transform="translate(578.65 1214.1) rotate(-90) scale(1 1.0)" class="t2">3</text>
<text transform="translate(109 1080.90) scale(1 1.0)" class="t2">6</text>
<text transform="translate(649.35 1214.1) rotate(-90) scale(1 1.0)" class="t2">6</text>
<text transform="translate(109 1133.38) scale(1 1.0)" class="t2">7</text>
<text transform="translate(720.05 1214.1) rotate(-90) scale(1 1.0)" class="t2">7</text>
<text transform="translate(109 1185.86) scale(1 1.0)" class="t2">8</text>
<text transform="translate(790.75 1214.1) rotate(-90) scale(1 1.0)" class="t2">8</text>
<text transform="translate(468.9 1231.3) scale(1 1.0)" class="t2">Estimated class (total correct: 9871, total misclassified: 129, error rate: 1.29%)</text>
<text transform="translate(101.4 948.4) rotate(-90) scale(1 1.0)" class="t2">Target (actual) class</text>
</g>
</svg>
<div id="bot"></div>
</body></html>
